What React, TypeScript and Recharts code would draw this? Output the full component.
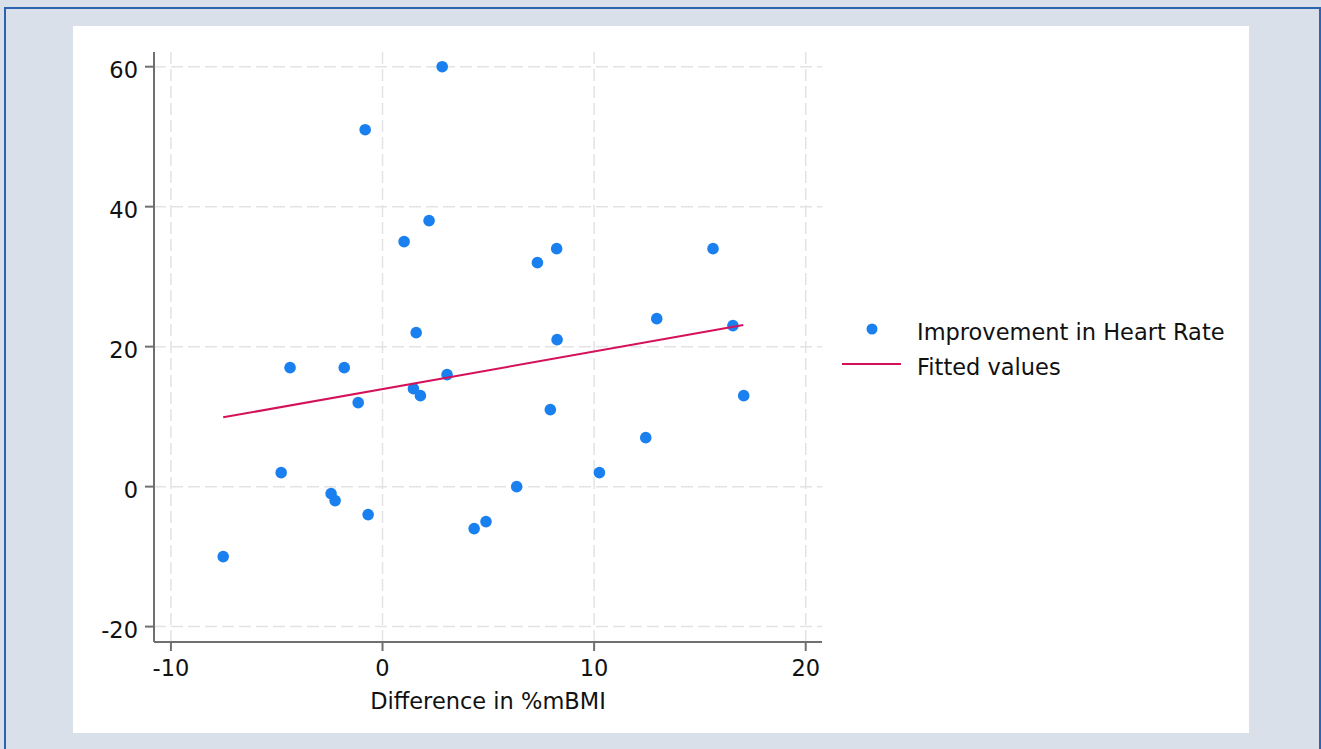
import { CartesianGrid, Legend, Scatter, ScatterChart, XAxis, YAxis } from 'recharts';

// difference in %mBMI vs improvement in heart rate
const diffBmi = [
  -7.53, -4.79, -4.37, -2.43, -2.24, -1.81, -1.15, -0.82, -0.68, 1.02, 1.46, 1.59, 1.79, 2.2, 2.82,
  3.05, 4.33, 4.89, 6.34, 7.32, 7.93, 8.23, 8.25, 10.25, 12.44, 12.96, 15.62, 16.56, 17.07,
];
const hrImprovement = [
  -10, 2, 17, -1, -2, 17, 12, 51, -4, 35, 14, 22, 13, 38, 60,
  16, -6, -5, 0, 32, 11, 34, 21, 2, 7, 24, 34, 23, 13,
];
const fitX = [-7.53, 17.05];
const fitY = [9.9, 23.08];
const xTicks = [-10, 0, 10, 20];
const yTicks = [-20, 0, 20, 40, 60];

const FONT = '"DejaVu Sans", "Liberation Sans", Arial, sans-serif';
const FS = 22.5;
const BLUE = '#1a80f0';
const RED = '#d41159';
const AXIS = '#707070';
const TEXT = '#111';

const points = diffBmi.map((x, i) => ({ x, y: hrImprovement[i] }));
const fitted = fitX.map((x, i) => ({ x, y: fitY[i] }));

function XTick({ x, y, payload }: any) {
  return (
    <text x={x} y={y} dy={16} textAnchor="middle" fontSize={FS} fontFamily={FONT} fill={TEXT}>
      {payload.value}
    </text>
  );
}

function YTick({ x, y, payload }: any) {
  return (
    <text x={x} y={y} dy={11} textAnchor="end" fontSize={FS} fontFamily={FONT} fill={TEXT}>
      {payload.value}
    </text>
  );
}

function XTitle({ viewBox }: any) {
  const { x, y, width, height } = viewBox;
  return (
    <text x={x + width / 2} y={y + height - 13} textAnchor="middle" fontSize={FS} fontFamily={FONT} fill={TEXT}>
      Difference in %mBMI
    </text>
  );
}

function LegendBox({ payload }: any) {
  // markers first, then the fitted line, as in the original
  const items = [...(payload || [])].sort((a: any, b: any) => (a.type === 'circle' ? -1 : 0) - (b.type === 'circle' ? -1 : 0));
  return (
    <svg width={420} height={90}>
      {items.map((entry: any, i: number) => {
        const cy = i === 0 ? 29 : 64;
        return (
          <g key={entry.value}>
            {entry.type === 'circle' ? (
              <circle cx={42} cy={cy} r={5.5} fill={BLUE} />
            ) : (
              <line x1={12} y1={cy} x2={71} y2={cy} stroke={RED} strokeWidth={2} />
            )}
            <text x={87} y={cy + 10.7} fontSize={FS} fontFamily={FONT} fill={TEXT}>
              {entry.value}
            </text>
          </g>
        );
      })}
    </svg>
  );
}

const Dot = (props: any) => <circle cx={props.cx} cy={props.cy} r={5.8} fill={BLUE} />;

export default function App() {
  return (
    <div style={{ position: 'absolute', left: 0, top: 0, width: 1321, height: 749, overflow: 'hidden', background: '#d9e0ea' }}>
      <div
        style={{
          position: 'absolute',
          left: 4,
          top: 7,
          width: 1317,
          height: 800,
          boxSizing: 'border-box',
          borderLeft: '2px solid #2d63b0',
          borderTop: '2px solid #2d63b0',
          borderRight: '2px solid #2d63b0',
        }}
      />
      <div style={{ position: 'absolute', left: 73, top: 26, width: 1176, height: 707, background: '#fff' }}>
        <ScatterChart width={1176} height={707} margin={{ top: 26, right: 427, bottom: 11, left: 0 }}>
          <CartesianGrid
            stroke="#e3e3e3"
            strokeWidth={1.5}
            strokeDasharray="12 5"
            verticalValues={xTicks}
            horizontalValues={yTicks}
          />
          <XAxis
            type="number"
            dataKey="x"
            domain={[-10.8, 20.77]}
            ticks={xTicks}
            allowDataOverflow
            height={80}
            tickSize={9}
            tickMargin={9}
            axisLine={{ stroke: AXIS, strokeWidth: 2 }}
            tickLine={{ stroke: AXIS, strokeWidth: 2 }}
            tick={<XTick />}
            label={<XTitle />}
          />
          <YAxis
            type="number"
            dataKey="y"
            domain={[-22.2, 62.1]}
            ticks={yTicks}
            allowDataOverflow
            width={81}
            tickSize={9}
            tickMargin={7}
            axisLine={{ stroke: AXIS, strokeWidth: 2 }}
            tickLine={{ stroke: AXIS, strokeWidth: 2 }}
            tick={<YTick />}
          />
          <Legend
            layout="vertical"
            align="center"
            verticalAlign="middle"
            content={<LegendBox />}
            wrapperStyle={{ left: 757, top: 274, width: 420, height: 90 }}
          />
          <Scatter
            name="Improvement in Heart Rate"
            data={points}
            fill={BLUE}
            legendType="circle"
            shape={Dot}
            isAnimationActive={false}
          />
          <Scatter
            name="Fitted values"
            data={fitted}
            fill={RED}
            legendType="line"
            line={{ stroke: RED, strokeWidth: 2 }}
            shape={() => <g />}
            isAnimationActive={false}
          />
        </ScatterChart>
      </div>
    </div>
  );
}
